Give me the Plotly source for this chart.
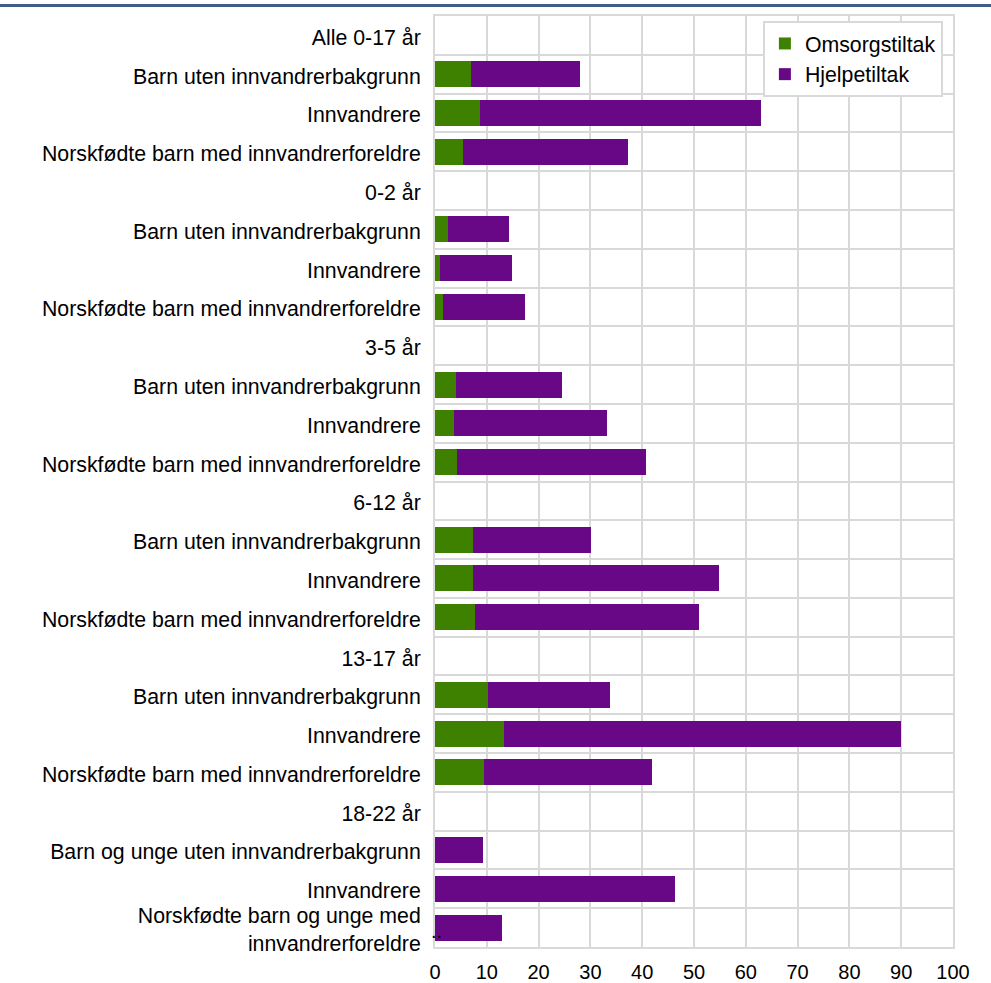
import plotly.graph_objects as go

categories = [
    "Alle 0-17 år",
    "Barn uten innvandrerbakgrunn",
    "Innvandrere",
    "Norskfødte barn med innvandrerforeldre",
    "0-2 år",
    "Barn uten innvandrerbakgrunn",
    "Innvandrere",
    "Norskfødte barn med innvandrerforeldre",
    "3-5 år",
    "Barn uten innvandrerbakgrunn",
    "Innvandrere",
    "Norskfødte barn med innvandrerforeldre",
    "6-12 år",
    "Barn uten innvandrerbakgrunn",
    "Innvandrere",
    "Norskfødte barn med innvandrerforeldre",
    "13-17 år",
    "Barn uten innvandrerbakgrunn",
    "Innvandrere",
    "Norskfødte barn med innvandrerforeldre",
    "18-22 år",
    "Barn og unge uten innvandrerbakgrunn",
    "Innvandrere",
    "Norskfødte barn og unge med<br>innvandrerforeldre",
]

omsorgstiltak = [
    None, 7.0, 8.7, 5.4,
    None, 2.5, 1.0, 1.5,
    None, 4.1, 3.7, 4.3,
    None, 7.4, 7.4, 7.8,
    None, 10.3, 13.3, 9.4,
    None, None, None, None,
]

hjelpetiltak = [
    None, 20.9, 54.2, 31.8,
    None, 11.8, 13.9, 15.8,
    None, 20.5, 29.6, 36.5,
    None, 22.8, 47.5, 43.1,
    None, 23.5, 76.6, 32.4,
    None, 9.3, 46.3, 13.0,
]

missing_label = ".."
missing_index = 23

x_ticks = list(range(0, 101, 10))

positions = list(range(len(categories)))

GREEN = "#3E8000"
PURPLE = "#690887"
GRID = "#D9D9D9"
FONT = "Liberation Sans, Arial, sans-serif"
LABEL_SIZE = 21.3

fig = go.Figure()
fig.add_trace(go.Bar(
    y=positions, x=omsorgstiltak, orientation="h", name="Omsorgstiltak",
    marker=dict(color=GREEN, line=dict(width=0)),
))
fig.add_trace(go.Bar(
    y=positions, x=hjelpetiltak, orientation="h", name="Hjelpetiltak",
    marker=dict(color=PURPLE, line=dict(width=0)),
))

fig.add_annotation(
    x=0, y=positions[missing_index], xref="x", yref="y", text=missing_label,
    showarrow=False, xanchor="center", yanchor="middle", yshift=-3, xshift=1,
    font=dict(family=FONT, size=20, color="black"),
)

fig.add_shape(
    type="line", xref="paper", yref="paper",
    x0=-0.9, x1=1.1, y0=1.0113, y1=1.0113,
    line=dict(color="#445C8A", width=3),
)

fig.update_layout(
    width=991, height=983,
    margin=dict(l=435, r=38, t=16, b=36),
    barmode="stack",
    bargap=0.33,
    plot_bgcolor="white",
    paper_bgcolor="white",
    font=dict(family=FONT, size=20, color="black"),
    showlegend=True,
    legend=dict(
        x=0.633, y=0.9945, xanchor="left", yanchor="top",
        bgcolor="white", bordercolor=GRID, borderwidth=2,
        font=dict(family=FONT, size=LABEL_SIZE, color="black"),
        traceorder="normal", itemwidth=30,
    ),
    xaxis=dict(
        range=[0, 100], tickvals=x_ticks, showgrid=True, gridcolor=GRID, gridwidth=2,
        showline=True, linecolor=GRID, linewidth=2, mirror=True, zeroline=False,
        tickfont=dict(family=FONT, size=20, color="black"), ticks="",
        ticklabelstandoff=6, automargin=False,
    ),
    yaxis=dict(
        range=[len(categories) - 0.5, -0.5],
        tickmode="array", tickvals=positions, ticktext=categories,
        showgrid=False, zeroline=False,
        showline=True, linecolor=GRID, linewidth=2, mirror=True,
        tickfont=dict(family=FONT, size=LABEL_SIZE, color="black"), ticks="",
        ticklabelstandoff=8, ticklabelshift=-2, automargin=False,
        minor=dict(
            tickmode="array",
            tickvals=[p + 0.5 for p in positions[:-1]],
            showgrid=True, gridcolor=GRID, gridwidth=2, ticks="",
        ),
    ),
)

fig.write_html(
    "out.html",
    config={"displayModeBar": False},
    post_script="document.body.style.margin='0';document.body.style.overflow='hidden';",
)
